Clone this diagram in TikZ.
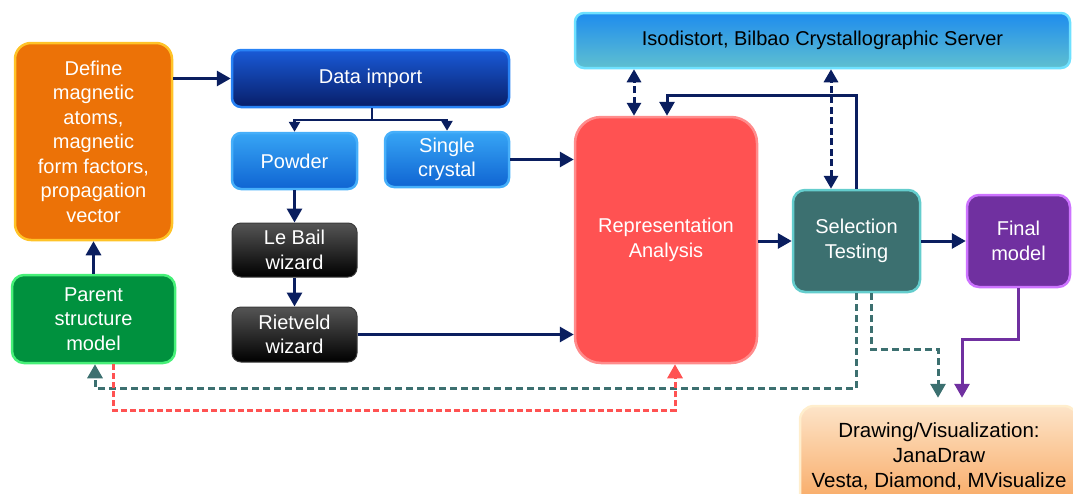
\documentclass[tikz,border=0pt]{standalone}
\usepackage{fontspec}
\setmainfont{Liberation Sans}
\usetikzlibrary{arrows.meta}
\definecolor{navy}{RGB}{10,30,95}
\definecolor{orfill}{RGB}{236,114,7}
\definecolor{orborder}{RGB}{255,195,40}
\definecolor{grfill}{RGB}{0,145,62}
\definecolor{grborder}{RGB}{70,240,120}
\definecolor{ditop}{RGB}{25,90,215}
\definecolor{dibot}{RGB}{8,30,105}
\definecolor{diborder}{RGB}{40,130,245}
\definecolor{pwtop}{RGB}{55,165,245}
\definecolor{pwbot}{RGB}{15,100,210}
\definecolor{pwborder}{RGB}{70,175,250}
\definecolor{bktop}{RGB}{85,85,85}
\definecolor{bkbot}{RGB}{0,0,0}
\definecolor{bkborder}{RGB}{60,60,60}
\definecolor{redfill}{RGB}{255,82,82}
\definecolor{redborder}{RGB}{255,140,140}
\definecolor{isotop}{RGB}{30,140,238}
\definecolor{isobot}{RGB}{95,192,208}
\definecolor{isoborder}{RGB}{110,225,255}
\definecolor{tealfill}{RGB}{60,112,112}
\definecolor{tealborder}{RGB}{100,205,205}
\definecolor{purfill}{RGB}{112,48,160}
\definecolor{purborder}{RGB}{205,115,255}
\definecolor{vistop}{RGB}{253,228,200}
\definecolor{visbot}{RGB}{248,168,98}
\definecolor{visborder}{RGB}{255,238,205}
\begin{document}
\begin{tikzpicture}[x=1pt,y=-1pt,
  box/.style={draw, line width=2.5pt, rounded corners=9pt, align=center, text=white,
    inner sep=0pt, font=\fontsize{20pt}{24.5pt}\selectfont},
  arr/.style={draw=navy, line width=3pt, -{Triangle[length=14pt,width=15pt]}},
  smallarr/.style={draw=navy, line width=2.5pt, -{Triangle[length=10pt,width=11pt]}},
  dblarr/.style={draw=navy, line width=3pt, dash pattern=on 7pt off 3.5pt,
    {Triangle[length=13pt,width=14pt]}-{Triangle[length=13pt,width=14pt]}},
  tealdash/.style={draw=tealfill, line width=3pt, dash pattern=on 7pt off 4pt},
  reddash/.style={draw=redfill, line width=3pt, dash pattern=on 6pt off 3pt},
  tip/.style={-{Triangle[length=14pt,width=15pt]}}
]
\useasboundingbox (0,0) rectangle (1073,493);
\clip (0,0) rectangle (1073,493);

% nodes
\node[box, fill=orfill, draw=orborder, rounded corners=16pt, minimum width=157pt, minimum height=197pt]
  (define) at (93.5,141.5) {Define\\magnetic\\atoms,\\magnetic\\form factors,\\propagation\\vector};
\node[box, fill=grfill, draw=grborder, rounded corners=12pt, minimum width=163pt, minimum height=88pt]
  (parent) at (93.5,319) {Parent\\structure\\model};
\node[box, top color=ditop, bottom color=dibot, draw=diborder, minimum width=277pt, minimum height=57pt]
  (data) at (370.5,78.5) {Data import};
\node[box, top color=pwtop, bottom color=pwbot, draw=pwborder, minimum width=125pt, minimum height=56pt]
  (powder) at (294.5,161) {Powder};
\node[box, top color=pwtop, bottom color=pwbot, draw=pwborder, minimum width=124pt, minimum height=55pt]
  (single) at (447,159.5) {Single\\crystal};
\node[box, top color=bktop, bottom color=bkbot, draw=bkborder, line width=1pt, minimum width=125pt, minimum height=54pt]
  (lebail) at (294.5,250) {Le Bail\\wizard};
\node[box, top color=bktop, bottom color=bkbot, draw=bkborder, line width=1pt, minimum width=125pt, minimum height=55pt]
  (rietveld) at (294.5,334.5) {Rietveld\\wizard};
\node[box, fill=redfill, draw=redborder, rounded corners=26pt, minimum width=182pt, minimum height=246pt]
  (rep) at (666,240) {Representation\\Analysis};
\node[box, top color=isotop, bottom color=isobot, draw=isoborder, text=black, minimum width=495pt, minimum height=55pt]
  (iso) at (822.5,40.5) {Isodistort, Bilbao Crystallographic Server};
\node[box, fill=tealfill, draw=tealborder, rounded corners=12pt, minimum width=127pt, minimum height=102pt]
  (sel) at (856.5,241) {Selection\\Testing};
\node[box, fill=purfill, draw=purborder, rounded corners=12pt, minimum width=103pt, minimum height=92pt]
  (final) at (1018.5,241) {Final\\model};
\node[box, top color=vistop, bottom color=visbot, draw=visborder, text=black, rounded corners=14pt,
  minimum width=278pt, minimum height=100pt, font=\fontsize{20.5pt}{25pt}\selectfont]
  (vis) at (939,456) {Drawing/Visualization:\\JanaDraw\\Vesta, Diamond, MVisualize};

% connectors
\draw[arr] (parent.north) -- (define.south);
\draw[arr] (define.east |- data.west) -- (data.west);
\coordinate (br) at (372,120);
\draw[navy, line width=2.5pt] ([xshift=1.5pt]data.south) -- (br);
\draw[smallarr] (br) -| (powder.north);
\draw[smallarr] (br) -| (single.north);
\draw[arr] (powder.south) -- (lebail.north);
\draw[arr] (lebail.south) -- (rietveld.north);
\draw[arr] (single.east) -- (single.east -| rep.west);
\draw[arr] (rietveld.east) -- (rietveld.east -| rep.west);
\draw[arr] (rep.east |- sel.west) -- (sel.west);
\draw[arr] (sel.east) -- (final.west);
\draw[dblarr] ([xshift=-32pt]rep.north) -- ([xshift=-32pt]rep.north |- iso.south);
\draw[dblarr] ([xshift=-25.5pt]sel.north) -- ([xshift=-25.5pt]sel.north |- iso.south);
\draw[arr] (sel.north) -- ++(0,-93) -| ([xshift=1pt]rep.north);
\draw[tealdash, tip] (sel.south) -- ++(0,95) -| ([xshift=1.5pt]parent.south);
\draw[tealdash, tip, shorten >=7pt] ([xshift=14.5pt]sel.south) -- ++(0,56) -| ([xshift=-1pt]vis.north);
\draw[draw=purfill, line width=3pt, tip, shorten >=7pt] (final.south) -- ++(0,51) -| ([xshift=23pt]vis.north);
\draw[reddash, tip] ([xshift=19.5pt]parent.south) -- ++(0,46) -| ([xshift=9pt]rep.south);
\end{tikzpicture}
\end{document}
